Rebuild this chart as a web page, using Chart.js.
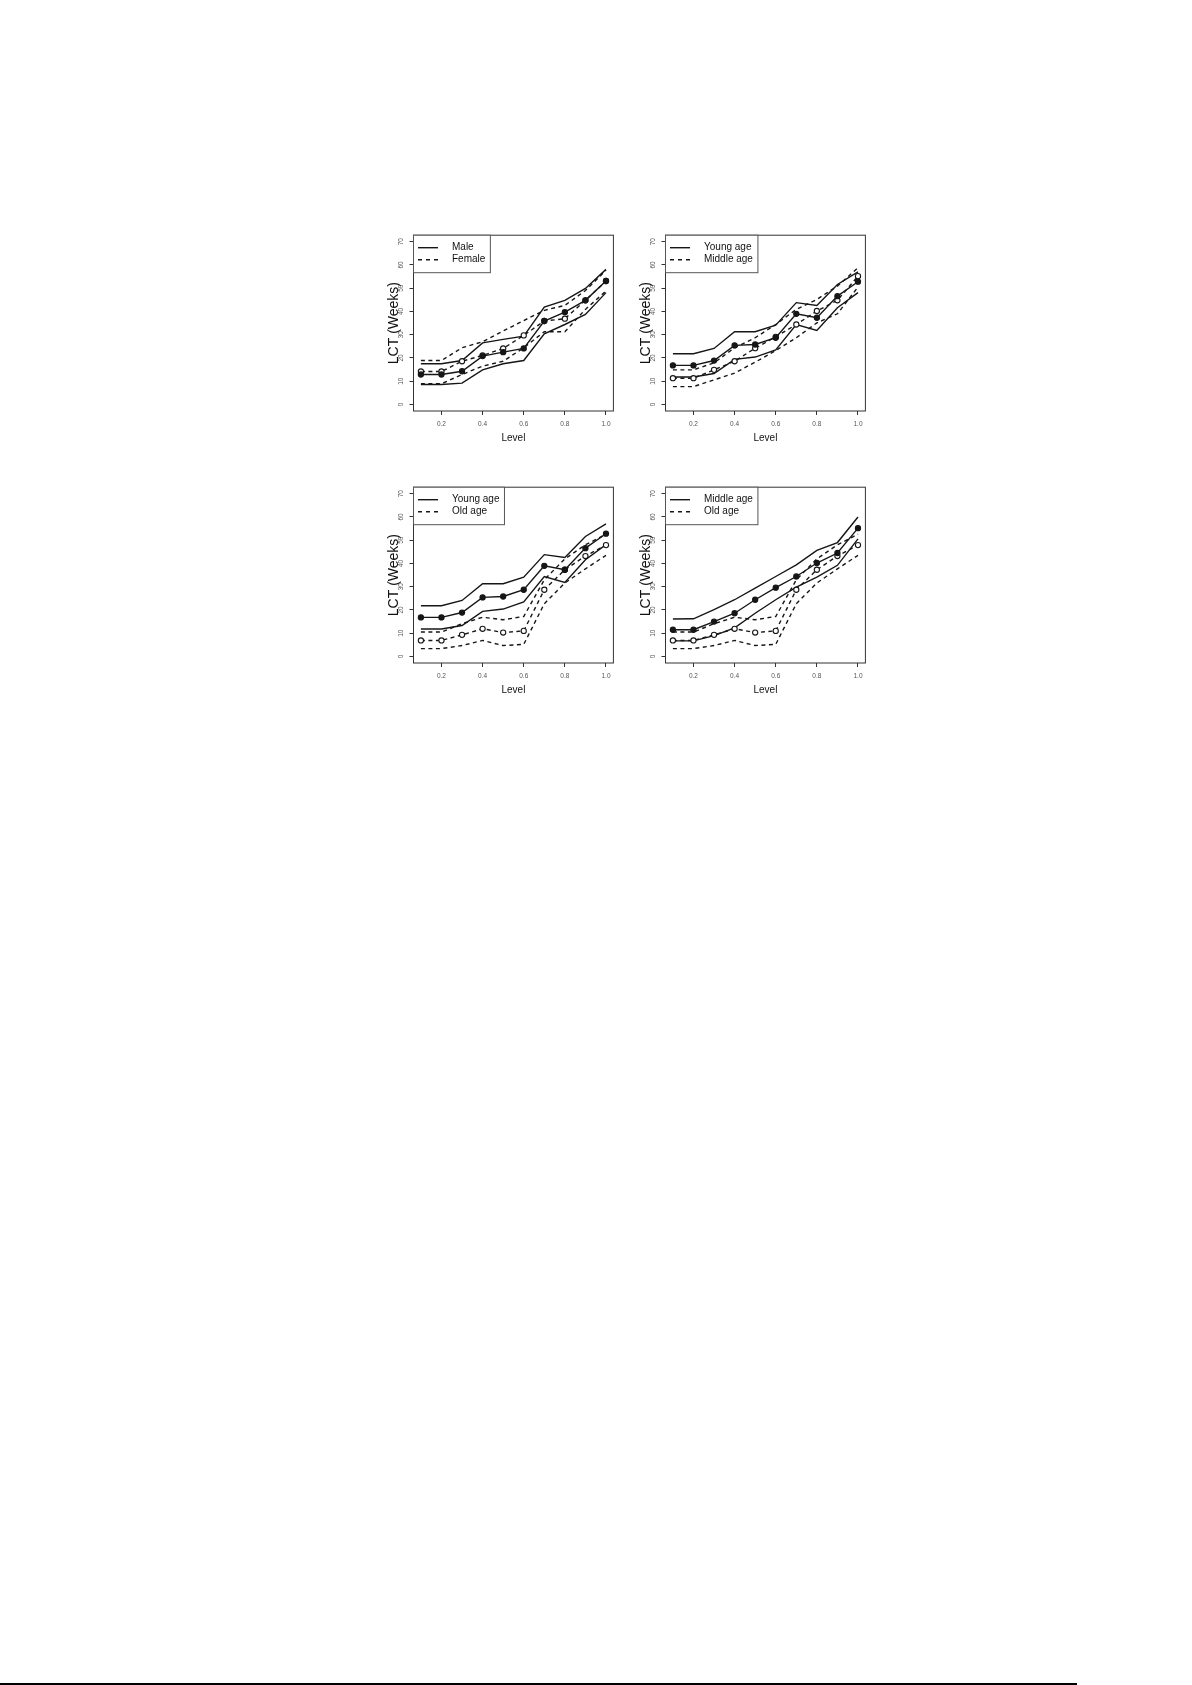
<!DOCTYPE html>
<html>
<head>
<meta charset="utf-8">
<script src="https://cdn.jsdelivr.net/npm/chart.js@4.4.1/dist/chart.umd.min.js"></script>
<style>
  body { margin: 0; background: #fff; }
  #page { position: relative; width: 1192px; height: 1685px; }
  canvas { position: absolute; }
  #rule { position: absolute; left: 0; top: 1683px; width: 1077px; height: 2px; background: #000; }
</style>
</head>
<body>
<div id="page">
  <canvas id="p1" width="250" height="230" style="left:370px;top:225px"></canvas>
  <canvas id="p2" width="250" height="230" style="left:621.5px;top:225px"></canvas>
  <canvas id="p3" width="250" height="230" style="left:370px;top:477.3px"></canvas>
  <canvas id="p4" width="250" height="230" style="left:621.5px;top:477.3px"></canvas>
  <div id="rule"></div>
</div>
<script>
// level (x) and axis ticks
var levels = [0.1, 0.2, 0.3, 0.4, 0.5, 0.6, 0.7, 0.8, 0.9, 1.0];
var xTicks = [0.2, 0.4, 0.6, 0.8, 1.0];
var xTickLabels = ['0.2', '0.4', '0.6', '0.8', '1.0'];
var yTicks = [0, 10, 20, 30, 40, 50, 60, 70];
var yTickLabels = ['0', '10', '20', '30', '40', '50', '60', '70'];

// panel 1 : Male / Female
var maleUpper = [17.5, 17.5, 18.9, 26.5, 28.0, 29.4, 41.9, 44.8, 49.9, 58.1];
var maleMid = [12.9, 12.9, 14.3, 20.8, 22.5, 24.1, 35.9, 39.7, 44.8, 53.1];
var maleLower = [8.6, 8.6, 9.2, 14.9, 17.5, 18.9, 30.4, 34.4, 38.7, 48.1];
var femaleUpper = [18.9, 18.9, 24.4, 27.0, 31.6, 36.1, 40.5, 42.6, 49.0, 57.7];
var femaleMid = [14.2, 14.2, 18.6, 21.1, 24.1, 29.7, 35.9, 36.9, 44.8, 53.1];
var femaleLower = [8.9, 8.9, 12.9, 16.5, 18.6, 24.4, 31.3, 31.3, 40.9, 48.8];

// young age (panel 2, 3)
var youngUpper = [21.8, 21.8, 24.1, 31.3, 31.3, 34.1, 43.8, 42.6, 51.6, 57.0];
var youngMid = [16.8, 16.8, 18.9, 25.4, 25.8, 28.7, 39.0, 37.3, 46.6, 52.8];
var youngLower = [11.8, 11.8, 13.3, 19.4, 20.4, 23.5, 34.4, 31.8, 41.6, 48.1];

// middle age in panel 2
var middleUpperA = [14.9, 14.9, 17.9, 24.4, 28.7, 34.4, 40.9, 45.2, 50.9, 58.8];
var middleMidA = [11.3, 11.3, 14.9, 18.6, 24.2, 29.1, 34.4, 40.2, 44.8, 55.2];
var middleLowerA = [7.7, 7.7, 10.6, 13.5, 18.2, 23.2, 28.7, 35.1, 39.0, 50.5];

// middle age in panel 4
var middleUpperB = [16.1, 16.2, 20.2, 24.4, 29.4, 34.4, 39.4, 45.6, 49.0, 60.0];
var middleMidB = [11.5, 11.5, 15.0, 18.6, 24.4, 29.6, 34.4, 40.2, 44.5, 55.2];
var middleLowerB = [6.7, 6.7, 9.0, 12.3, 18.6, 24.4, 29.8, 34.1, 39.2, 50.6];

// old age (panel 3, 4)
var oldUpper = [10.5, 10.5, 14.1, 16.9, 15.8, 17.2, 33.0, 42.0, 48.0, 52.6];
var oldMid = [6.9, 6.9, 9.3, 11.9, 10.3, 11.0, 28.7, 37.3, 43.2, 47.9];
var oldLower = [3.4, 3.4, 4.7, 6.9, 4.7, 5.2, 22.7, 31.6, 37.7, 43.5];

var FONT = 'Liberation Sans, Arial, Helvetica, sans-serif';
var INK = '#161616';
var DASH = [4, 3.5];
Chart.defaults.font.family = FONT;

function toXY(values) {
    return values.map(function (v, i) { return { x: levels[i], y: v }; });
}

// box round the plot area + R style legend top-left
var boxLegend = {
    id: 'boxLegend',
    afterDraw: function (chart, args, opts) {
        var c = chart.ctx, a = chart.chartArea;
        c.save();
        c.strokeStyle = '#333';
        c.lineWidth = 1;
        c.strokeRect(a.left, a.top, a.right - a.left, a.bottom - a.top);

        c.font = '10px ' + FONT;
        var tw = Math.max(c.measureText(opts.labels[0]).width, c.measureText(opts.labels[1]).width);
        var w = tw + 43.5, h = 37.5;
        c.fillStyle = '#fff';
        c.fillRect(a.left, a.top, w, h);
        c.strokeStyle = '#555';
        c.strokeRect(a.left, a.top, w, h);

        var rows = [a.top + 12.5, a.top + 24.5];
        c.strokeStyle = INK;
        c.lineWidth = 1.4;
        for (var i = 0; i < 2; i++) {
            c.setLineDash(i === 0 ? [] : [4, 4]);
            c.beginPath();
            c.moveTo(a.left + 4.5, rows[i]);
            c.lineTo(a.left + 24.5, rows[i]);
            c.stroke();
        }
        c.setLineDash([]);
        c.fillStyle = '#111';
        c.textBaseline = 'middle';
        c.textAlign = 'left';
        c.fillText(opts.labels[0], a.left + 38.5, rows[0]);
        c.fillText(opts.labels[1], a.left + 38.5, rows[1]);
        c.restore();
    }
};

function band(values, dashed, marker, order) {
    return {
        data: toXY(values),
        borderColor: INK,
        borderWidth: 1.4,
        borderDash: dashed ? DASH : [],
        tension: 0,
        fill: false,
        order: order,
        pointRadius: marker ? 2.6 : 0,
        pointBorderWidth: 1.1,
        pointBorderColor: INK,
        pointBackgroundColor: marker === 'open' ? '#fff' : INK
    };
}

function makePanel(id, labels, solid, dashed) {
    var ctx = document.getElementById(id).getContext('2d');
    return new Chart(ctx, {
        type: 'line',
        data: {
            datasets: [
                band(solid[1], false, 'filled', 1),
                band(dashed[1], true, 'open', 2),
                band(solid[0], false, null, 3),
                band(solid[2], false, null, 3),
                band(dashed[0], true, null, 4),
                band(dashed[2], true, null, 4)
            ]
        },
        options: {
            responsive: false,
            animation: false,
            layout: { padding: { left: 0, right: 6.6, top: 10.2, bottom: 0 } },
            plugins: {
                legend: { display: false },
                tooltip: { enabled: false },
                boxLegend: { labels: labels }
            },
            scales: {
                x: {
                    type: 'linear',
                    min: 0.064,
                    max: 1.036,
                    afterBuildTicks: function (s) { s.ticks = xTicks.map(function (v) { return { value: v }; }); },
                    afterFit: function (s) { s.height = 44; },
                    ticks: {
                        autoSkip: false,
                        maxRotation: 0,
                        padding: 5,
                        color: '#555',
                        font: { size: 6.5 },
                        callback: function (v, i) { return xTickLabels[i]; }
                    },
                    grid: { drawOnChartArea: false, drawTicks: true, tickLength: 4, color: '#333' },
                    border: { display: false },
                    title: { display: true, text: 'Level', color: '#111', font: { size: 10 }, padding: { top: 0, bottom: 10.7 } }
                },
                y: {
                    type: 'linear',
                    min: -2.8,
                    max: 72.8,
                    afterBuildTicks: function (s) { s.ticks = yTicks.map(function (v) { return { value: v }; }); },
                    afterFit: function (s) { s.width = 43.5; },
                    ticks: {
                        autoSkip: false,
                        minRotation: 90,
                        maxRotation: 90,
                        crossAlign: 'center',
                        padding: 4.2,
                        color: '#555',
                        font: { size: 6.5 },
                        callback: function (v, i) { return yTickLabels[i]; }
                    },
                    grid: { drawOnChartArea: false, drawTicks: true, tickLength: 4, color: '#333' },
                    border: { display: false },
                    title: { display: true, text: 'LCT (Weeks)', color: '#111', font: { size: 14 }, padding: { top: 15.6, bottom: 0 } }
                }
            }
        },
        plugins: [boxLegend]
    });
}

makePanel('p1', ['Male', 'Female'], [maleUpper, maleMid, maleLower], [femaleUpper, femaleMid, femaleLower]);
makePanel('p2', ['Young age', 'Middle age'], [youngUpper, youngMid, youngLower], [middleUpperA, middleMidA, middleLowerA]);
makePanel('p3', ['Young age', 'Old age'], [youngUpper, youngMid, youngLower], [oldUpper, oldMid, oldLower]);
makePanel('p4', ['Middle age', 'Old age'], [middleUpperB, middleMidB, middleLowerB], [oldUpper, oldMid, oldLower]);
</script>
</body>
</html>
